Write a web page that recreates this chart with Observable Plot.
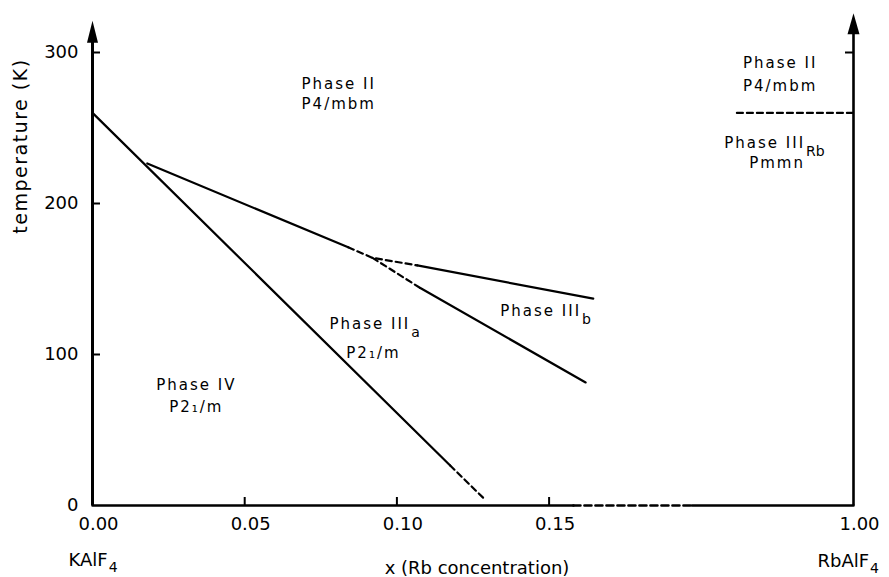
<!DOCTYPE html>
<html><head><meta charset="utf-8">
<script src="https://cdn.jsdelivr.net/npm/d3@7"></script>
<script src="https://cdn.jsdelivr.net/npm/@observablehq/plot@0.6"></script>
<style>body{margin:0;background:#fff}</style>
</head><body><div id="chart"></div>
<script>
// Broken x axis: 0–0.15 drawn linearly, the "1.00" (RbAlF4) end is drawn at position 0.25
const xTicks = [0, 0.05, 0.10, 0.15, 0.25];
const xTickLabels = ["0.00", "0.05", "0.10", "0.15", "1.00"];
const yTicks = [0, 100, 200, 300];
const yTickLabels = ["0", "100", "200", "300"];

// phase boundaries (x = Rb concentration position, T in K)
const solidSegments = [
  [[0, 260], [0.1175, 26.5]],                  // IV / III
  [[0.018, 226.5], [0.084, 171]],              // II / III
  [[0.1067, 159], [0.1645, 137]],              // II / IIIb
  [[0.1077, 144], [0.162, 81.5]]               // IIIa / IIIb
];
const dashedSegments = [
  [[0.1175, 26.5], [0.1284, 5]],
  [[0.084, 171], [0.092, 164], [0.1067, 159]],
  [[0.092, 164], [0.1077, 144]],
  [[0.2117, 260], [0.25, 260]]                 // RbAlF4 II / IIIRb
];
// x axis (baseline) pieces
const axisSolid = [[[0, 0], [0.158, 0]], [[0.197, 0], [0.25, 0]]];
const axisDashed = [[[0.158, 0], [0.197, 0]]];
const arrowTops = [[0, 321], [0.25, 326]];

// region labels
const phaseLabels = [
  {text: "Phase II", x: 0.0809, T: 279},
  {text: "P4/mbm", x: 0.0809, T: 265.5},
  {text: "Phase II", x: 0.2259, T: 293},
  {text: "P4/mbm", x: 0.2259, T: 278},
  {text: "Pmmn", x: 0.2249, T: 226.5},
  {text: "P2\u2081/m", x: 0.0923, T: 100.7},
  {text: "Phase IV", x: 0.0341, T: 79.5},
  {text: "P2\u2081/m", x: 0.0341, T: 65}
];
const subLabels = [
  {text: "Phase III", sub: "a", x: 0.1044, T: 120},
  {text: "Phase III", sub: "b", x: 0.1605, T: 128.5},
  {text: "Phase III", sub: "Rb", x: 0.2341, T: 240}
];
// end-member compounds at the two ends of the x axis
const endMembers = [
  {text: "KAlF", sub: "4", x: 0},
  {text: "RbAlF", sub: "4", x: 0.25}
];

const toRows = (segs) => segs.flatMap((s, i) => s.map(([x, y]) => ({x, y, id: i})));

const arrowHead = (w, h) => ({
  draw(ctx) { ctx.moveTo(0, 0); ctx.lineTo(w / 2, h); ctx.lineTo(-w / 2, h); ctx.closePath(); }
});

const font = "DejaVu Sans, Liberation Sans, sans-serif";

const chart = Plot.plot({
  width: 889,
  height: 577,
  marginLeft: 92,
  marginRight: 36,
  marginTop: 52,
  marginBottom: 72,
  x: {domain: [0, 0.25], axis: null},
  y: {domain: [0, 300], axis: null},
  style: {fontFamily: font, color: "black", background: "white"},
  marks: [
    // axes
    Plot.ruleX([0], {y1: 0, y2: 312, strokeWidth: 3}),
    Plot.ruleX([0.25], {y1: 0, y2: 316, strokeWidth: 2.6}),
    Plot.line(toRows(axisSolid), {x: "x", y: "y", z: "id", strokeWidth: 2.6}),
    Plot.line(toRows(axisDashed), {x: "x", y: "y", z: "id", strokeWidth: 2.6, strokeDasharray: "7,4"}),
    Plot.dot([arrowTops[0]], {x: d => d[0], y: d => d[1], symbol: arrowHead(11, 22), fill: "black", stroke: null}),
    Plot.dot([arrowTops[1]], {x: d => d[0], y: d => d[1], symbol: arrowHead(12, 21), fill: "black", stroke: null}),
    // ticks
    Plot.ruleX(xTicks.slice(1, 4), {x: d => d, y1: 0, y2: 0, insetBottom: 8, strokeWidth: 2}),
    Plot.ruleY(yTicks.slice(1), {y: d => d, x1: 0, x2: 0, insetRight: -8, strokeWidth: 2}),
    Plot.ruleY([300], {y: d => d, x1: 0.25, x2: 0.25, insetLeft: -8, strokeWidth: 2}),
    // tick labels
    Plot.text(xTicks, {x: d => d, y: 0, text: (d, i) => xTickLabels[i], dy: 19, dx: 6, fontSize: 18, lineAnchor: "middle"}),
    Plot.text(yTicks, {x: 0, y: d => d, text: (d, i) => yTickLabels[i], dx: -14, textAnchor: "end", fontSize: 18, lineAnchor: "middle"}),
    // end-member labels
    Plot.text([endMembers[0]], {x: "x", y: 0, text: "text", dx: -24, dy: 55, fontSize: 18, textAnchor: "start", lineAnchor: "middle"}),
    Plot.text([endMembers[1]], {x: "x", y: 0, text: "text", dx: -36, dy: 56, fontSize: 18, textAnchor: "start", lineAnchor: "middle"}),
    // axis titles
    Plot.text(["x (Rb concentration)"], {frameAnchor: "bottom", text: d => d, dx: 4, dy: 63, fontSize: 18, textAnchor: "middle", lineAnchor: "middle"}),
    Plot.text(["temperature (K)"], {frameAnchor: "left", text: d => d, rotate: -90, dx: -72, dy: -133, fontSize: 19, textAnchor: "middle", lineAnchor: "middle"}),
    // phase boundaries
    Plot.line(toRows(solidSegments), {x: "x", y: "y", z: "id", strokeWidth: 2.2}),
    Plot.line(toRows(dashedSegments), {x: "x", y: "y", z: "id", strokeWidth: 2.2, strokeDasharray: "6,4"}),
    // region labels
    Plot.text(phaseLabels, {x: "x", y: "T", text: "text", fontSize: 15, lineAnchor: "middle"}),
    Plot.text(subLabels, {x: "x", y: "T", text: "text", fontSize: 15, textAnchor: "end", lineAnchor: "middle"}),
    Plot.text(subLabels, {x: "x", y: "T", text: "sub", fontSize: 14, textAnchor: "start", lineAnchor: "middle", dx: 1, dy: 8})
  ]
});

document.getElementById("chart").appendChild(chart);
const svg = d3.select(chart);
svg.selectAll("text").each(function () {
  const t = this;
  const fs = t.closest("[font-size]")?.getAttribute("font-size");
  if (fs === "15") t.setAttribute("letter-spacing", "2");
  if (t.textContent === "temperature (K)") t.setAttribute("letter-spacing", "1.5");
});
// subscript "4" of the end-member formulas, as a lowered tspan inside the same text
svg.selectAll("text").filter(function () { return endMembers.some(e => e.text === this.textContent); })
  .each(function () {
    const e = endMembers.find(e => e.text === this.textContent);
    d3.select(this).append("tspan").attr("dx", 1).attr("dy", 6).attr("font-size", 14).text(e.sub);
  });
</script>
</body></html>
